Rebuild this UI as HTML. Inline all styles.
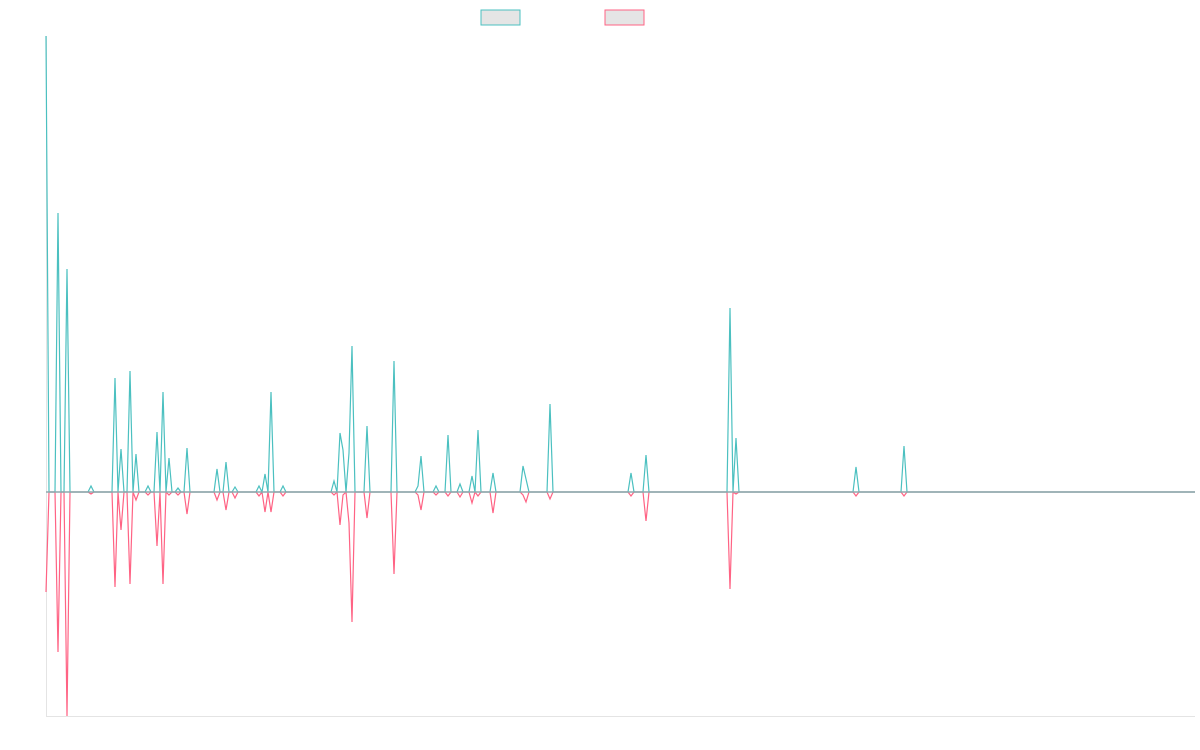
<!DOCTYPE html>
<html><head><meta charset="utf-8"><style>
body{margin:0;background:#fff;font-family:"Liberation Sans",sans-serif}
svg{display:block}
</style></head><body>
<svg id="c" width="1200" height="750">
<rect x="481" y="10" width="39" height="15" fill="#e5e5e5" stroke="#4bc0c0" stroke-width="1"/>
<rect x="605" y="10" width="39" height="15" fill="#e5e5e5" stroke="#ff6384" stroke-width="1"/>
<line x1="46.5" y1="36" x2="46.5" y2="716" stroke="#e4e4e4"/>
<line x1="46" y1="716.5" x2="1195" y2="716.5" stroke="#e4e4e4"/>
</svg>
<script>
const N = 384;
const peakIdx = [0,4,7,15,23,25,28,30,34,37,39,41,44,47,57,60,63,71,73,75,79,96,98,99,101,102,107,116,124,125,130,134,138,142,144,149,159,160,168,195,200,228,230,270,286];
const upVals  = [456,279,223,6,114,43,121,38,6,60,100,34,4,44,23,30,5,6,18,100,6,11,59,42,39,146,66,131,6,36,6,57,8,16,62,19,26,13,88,19,37,184,54,25,46];
const downVals= [-100,-160,-224,-2,-95,-38,-92,-8,-3,-54,-92,-3,-3,-22,-8,-18,-6,-4,-20,-20,-4,-3,-33,-3,-31,-130,-26,-82,-3,-18,-3,-4,-5,-11,-4,-21,-3,-10,-7,-4,-29,-97,-2,-4,-4];
const seriesA = new Array(N).fill(0);
const seriesB = new Array(N).fill(0);
peakIdx.forEach((k,j)=>{ seriesA[k]=upVals[j]; seriesB[k]=downVals[j]; });
const x0=46, x1=1195, yZero=492, yMax=456;
const xs = i => x0 + i*(x1-x0)/(N-1);
const ys = v => yZero - v*(yZero-36)/yMax;
const svg = document.getElementById('c');
const NS='http://www.w3.org/2000/svg';
function line(data,color,name){
  const p=document.createElementNS(NS,'polyline');
  p.setAttribute('points',data.map((v,i)=>xs(i).toFixed(1)+','+ys(v).toFixed(1)).join(' '));
  p.setAttribute('fill','none');p.setAttribute('stroke',color);p.setAttribute('stroke-width','1.2');
  
  
  svg.appendChild(p);
}
line(seriesB,'#ff6384','series-b-line');
line(seriesA,'#4bc0c0','series-a-line');
const z=document.createElementNS(NS,'line');
z.setAttribute('x1',x0);z.setAttribute('x2',x1);z.setAttribute('y1',yZero);z.setAttribute('y2',yZero);
z.setAttribute('stroke','#8fa9ad');z.setAttribute('stroke-width','1.5');


svg.appendChild(z);
</script>
</body></html>
